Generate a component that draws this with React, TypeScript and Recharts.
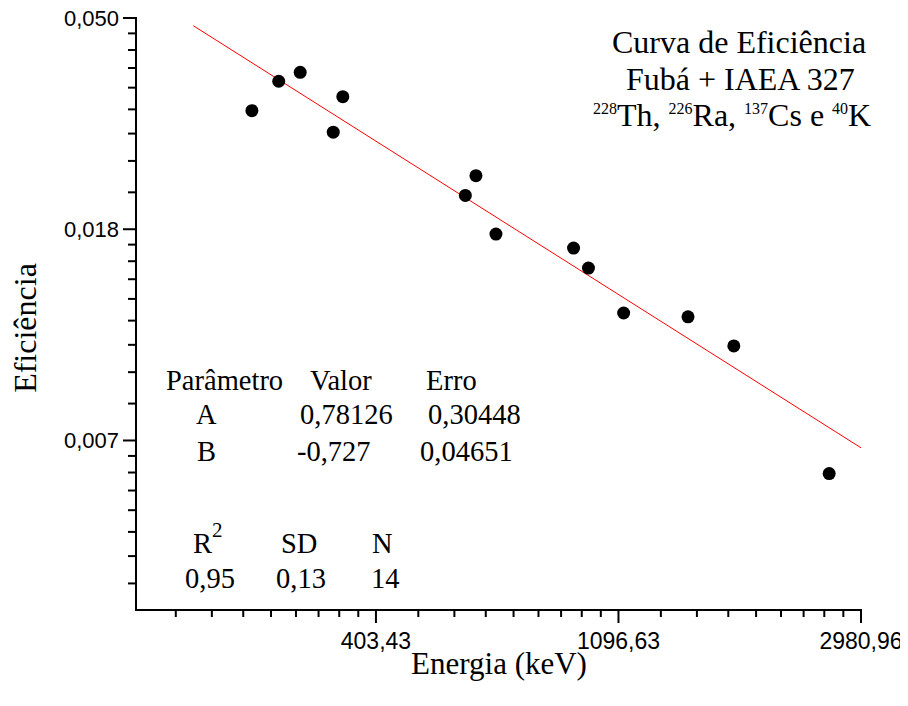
import React from 'react';
import { ScatterChart, Scatter, XAxis, YAxis } from 'recharts';

// Measured points (energy in keV, efficiency)
const energies = [241.9, 270.2, 295.2, 338.3, 351.9, 583.2, 609.3, 661.7, 911.2, 969.0, 1120.3, 1460.8, 1764.5, 2614.5];
const efficiencies = [0.0321, 0.0369, 0.0385, 0.029, 0.0343, 0.0215, 0.0236, 0.0179, 0.01675, 0.01524, 0.01232, 0.0121, 0.01054, 0.00576];

// Fitted straight line endpoints
const fitEnergies = [190, 2980.96];
const fitEfficiencies = [0.048, 0.006508];

// Axis ticks
const xMajorTicks = [403.43, 1096.63, 2980.96];
const xMajorLabels = ['403,43', '1096,63', '2980,96'];
const xMinorTicks = [
  176.75, 205.08, 233.42, 261.75, 290.09, 318.42, 346.76, 375.09,
  480.45, 557.48, 634.5, 711.52, 788.54, 865.57, 942.59, 1019.61,
  1306.0, 1515.37, 1724.74, 1934.11, 2143.48, 2352.85, 2562.22, 2771.59,
];
const yMajorTicks = [0.049787, 0.018316, 0.0067379];
const yMajorLabels = ['0,050', '0,018', '0,007'];
const yMinorTicks = [
  0.021813, 0.02531, 0.028806, 0.032303, 0.0358, 0.039297, 0.042794, 0.04629,
  0.0080243, 0.0093108, 0.0105972, 0.0118836, 0.01317, 0.0144565, 0.0157429, 0.0170293,
  0.0034248, 0.0038978, 0.0043708, 0.0048438, 0.0053168, 0.0057898, 0.0062628,
];

const xDomain = [150, 2980.96];
const yDomain = [0.00302, 0.049787];

const pointData = energies.map((x, i) => ({ x, y: efficiencies[i] }));
const fitData = fitEnergies.map((x, i) => ({ x, y: fitEfficiencies[i] }));

const SANS = '"Liberation Sans", Arial, sans-serif';
const SERIF = '"Liberation Serif", "Times New Roman", serif';

const W = 900;
const H = 690;

const XTick = (props: any) => {
  const { x, y, payload } = props;
  const v = payload.value;
  const idx = xMajorTicks.findIndex((t) => Math.abs(t - v) < 0.01);
  const major = idx >= 0;
  return (
    <g>
      <line x1={x} x2={x} y1={y} y2={y + (major ? 13 : 7)} stroke="#000" strokeWidth={2} />
      {major && (
        <text x={x} y={y + 39} textAnchor="middle" fontFamily={SANS} fontSize={23} fill="#000">
          {xMajorLabels[idx]}
        </text>
      )}
    </g>
  );
};

const YTick = (props: any) => {
  const { x, y, payload } = props;
  const v = payload.value;
  const idx = yMajorTicks.findIndex((t) => Math.abs(t - v) < 1e-6);
  const major = idx >= 0;
  return (
    <g>
      <line x1={x - (major ? 13 : 8)} x2={x} y1={y} y2={y} stroke="#000" strokeWidth={2} />
      {major && (
        <text x={x - 17} y={y} dy="0.36em" textAnchor="end" fontFamily={SANS} fontSize={22} fill="#000">
          {yMajorLabels[idx]}
        </text>
      )}
    </g>
  );
};

const Dot = (props: any) => {
  const { cx, cy } = props;
  if (cx == null || cy == null) return <g />;
  return <circle cx={cx} cy={cy} r={6.5} fill="#000" />;
};

const NoShape = () => <g />;

export default function App() {
  const title = { fontFamily: SERIF, fontSize: 32, fill: '#000' } as const;
  const axisT = { fontFamily: SERIF, fontSize: 31, fill: '#000' } as const;
  const tab = { fontFamily: SERIF, fontSize: 28.5, fill: '#000' } as const;
  const sup = 16;
  return (
    <div style={{ position: 'relative', width: W, height: H, background: '#fff' }}>
      <style>{'.recharts-surface { overflow: visible; }'}</style>
      <ScatterChart
        width={W}
        height={H}
        margin={{ top: 10, right: 47, left: 0, bottom: 0 }}
      >
        <XAxis
          type="number"
          dataKey="x"
          scale="log"
          domain={xDomain}
          allowDataOverflow
          ticks={[...xMinorTicks, ...xMajorTicks].sort((a, b) => a - b)}
          interval={0}
          tickSize={0}
          tickMargin={0}
          tickLine={false}
          tick={<XTick />}
          height={88}
          axisLine={{ stroke: '#000', strokeWidth: 2, strokeLinecap: 'square' }}
        />
        <YAxis
          type="number"
          dataKey="y"
          scale="log"
          domain={yDomain}
          allowDataOverflow
          ticks={[...yMinorTicks, ...yMajorTicks].sort((a, b) => a - b)}
          interval={0}
          tickSize={0}
          tickMargin={0}
          tickLine={false}
          tick={<YTick />}
          width={128}
          axisLine={{ stroke: '#000', strokeWidth: 2, strokeLinecap: 'square' }}
        />
        <Scatter
          data={fitData}
          line={{ stroke: '#ff0000', strokeWidth: 1 }}
          shape={<NoShape />}
          isAnimationActive={false}
        />
        <Scatter data={pointData} shape={<Dot />} isAnimationActive={false} />
      </ScatterChart>
      <svg
        width={W}
        height={H}
        style={{ position: 'absolute', left: 0, top: 0, pointerEvents: 'none' }}
      >
        {/* axis titles */}
        <text x={491} y={666} textAnchor="middle" {...axisT}>Energia (keV)</text>
        <text transform="translate(28, 320) rotate(-90)" textAnchor="middle" {...axisT} fontSize={32}>Eficiência</text>

        {/* title block */}
        <text x={604} y={45} {...title}>Curva de Eficiência</text>
        <text x={618} y={82} {...title}>Fubá + IAEA 327</text>
        <text x={585} y={118} {...title}>
          <tspan fontSize={sup} dy={-12}>228</tspan>
          <tspan dy={12}>Th, </tspan>
          <tspan fontSize={sup} dy={-12}>226</tspan>
          <tspan dy={12}>Ra, </tspan>
          <tspan fontSize={sup} dy={-12}>137</tspan>
          <tspan dy={12}>Cs e </tspan>
          <tspan fontSize={sup} dy={-12}>40</tspan>
          <tspan dy={12}>K</tspan>
        </text>

        {/* parameter table */}
        <text x={158} y={382} {...tab}>Parâmetro</text>
        <text x={302} y={382} {...tab}>Valor</text>
        <text x={418} y={382} {...tab}>Erro</text>
        <text x={188} y={416} {...tab}>A</text>
        <text x={292} y={416} {...tab}>0,78126</text>
        <text x={420} y={416} {...tab}>0,30448</text>
        <text x={189} y={453} {...tab}>B</text>
        <text x={289} y={453} {...tab}>-0,727</text>
        <text x={412} y={453} {...tab}>0,04651</text>

        <text x={185} y={545} {...tab}>
          R<tspan fontSize={21} dy={-16}>2</tspan>
        </text>
        <text x={273} y={545} {...tab}>SD</text>
        <text x={364} y={545} {...tab}>N</text>
        <text x={177} y={580} {...tab}>0,95</text>
        <text x={268} y={580} {...tab}>0,13</text>
        <text x={363} y={580} {...tab}>14</text>
      </svg>
    </div>
  );
}
